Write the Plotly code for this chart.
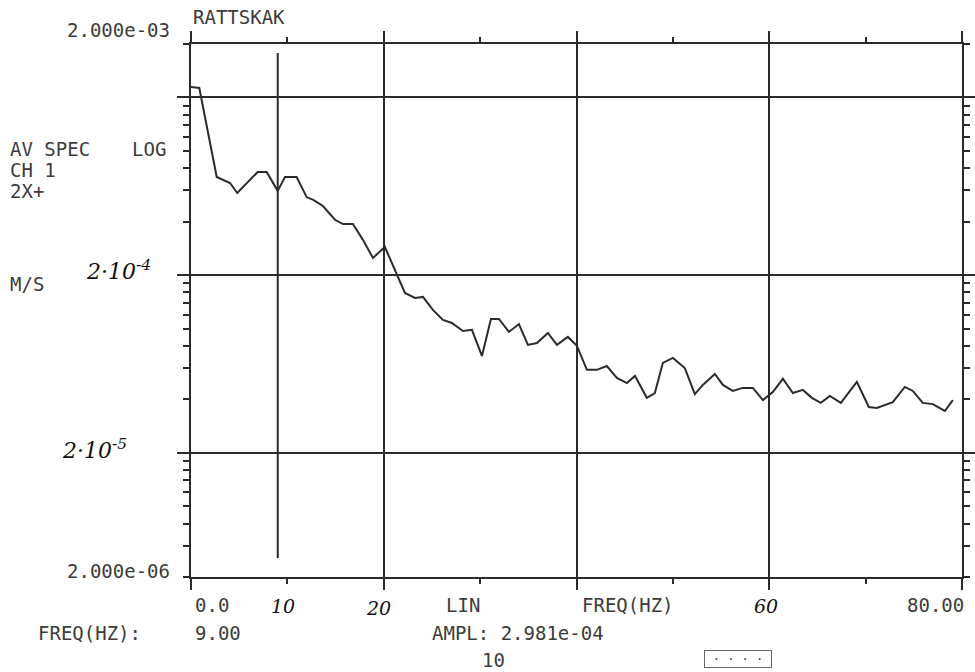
import math
import plotly.graph_objects as go

# Averaged spectrum, channel 1 (frequency in Hz, amplitude in m/s)
freq_hz = [0.0, 0.86, 2.67, 4.05, 4.80, 6.92, 7.85, 9.00, 9.75, 10.96,
           12.0, 12.69, 13.69, 14.94, 15.77, 16.80, 17.84, 18.88, 20.12, 21.37,
           22.2, 23.24, 24.07, 25.1, 26.14, 27.07, 28.22, 29.15, 30.19, 31.12,
           31.95, 32.99, 34.02, 34.96, 35.89, 37.03, 37.97, 39.11, 40.04, 41.08,
           42.12, 43.15, 44.19, 45.23, 46.06, 47.30, 48.13, 48.96, 50.0, 51.24,
           52.28, 53.11, 54.36, 55.19, 56.22, 57.26, 58.30, 59.34, 60.37, 61.41,
           62.45, 63.49, 64.42, 65.35, 66.29, 67.43, 69.09, 70.33, 71.16, 72.82,
           74.07, 74.90, 75.93, 76.97, 78.22, 79.05]
ampl = [1.146e-3, 1.131e-3, 3.57e-4, 3.30e-4, 2.90e-4, 3.81e-4, 3.81e-4, 2.981e-4, 3.57e-4, 3.57e-4,
        2.75e-4, 2.65e-4, 2.45e-4, 2.05e-4, 1.94e-4, 1.94e-4, 1.58e-4, 1.25e-4, 1.44e-4, 1.00e-4,
        7.94e-5, 7.44e-5, 7.54e-5, 6.37e-5, 5.60e-5, 5.38e-5, 4.85e-5, 4.92e-5, 3.51e-5, 5.67e-5,
        5.67e-5, 4.79e-5, 5.31e-5, 4.05e-5, 4.15e-5, 4.73e-5, 4.05e-5, 4.49e-5, 4.00e-5, 2.93e-5,
        2.93e-5, 3.08e-5, 2.64e-5, 2.47e-5, 2.71e-5, 2.04e-5, 2.17e-5, 3.21e-5, 3.42e-5, 3.00e-5,
        2.14e-5, 2.41e-5, 2.78e-5, 2.41e-5, 2.23e-5, 2.32e-5, 2.32e-5, 1.98e-5, 2.20e-5, 2.61e-5,
        2.17e-5, 2.26e-5, 2.04e-5, 1.91e-5, 2.09e-5, 1.91e-5, 2.51e-5, 1.81e-5, 1.79e-5, 1.93e-5,
        2.35e-5, 2.23e-5, 1.91e-5, 1.88e-5, 1.72e-5, 1.98e-5]

x_range = [0.0, 80.0]
y_top = 2.0e-3
y_bottom = 2.0e-6
cursor_freq = 9.00
cursor_ampl = 2.981e-4

W, H = 975, 672
L, R, T, B = 191, 13, 44, 95
PW, PH = W - L - R, H - T - B

INK = "#2b2b2b"
TEXT = "#3c3c3c"
HANDINK = "#111111"
MONO = "DejaVu Sans Mono"
HAND = "DejaVu Serif"


def px(x):
    return (x - L) / PW


def py(y):
    return (H - B - y) / PH


fig = go.Figure()
fig.add_trace(go.Scatter(x=freq_hz, y=ampl, mode="lines",
                         line=dict(color=INK, width=2), hoverinfo="skip",
                         showlegend=False))

fig.update_layout(
    width=W, height=H,
    margin=dict(l=L, r=R, t=T, b=B, pad=0, autoexpand=False),
    paper_bgcolor="white", plot_bgcolor="white",
    xaxis=dict(range=x_range, showgrid=True, gridcolor=INK, gridwidth=2,
               dtick=20, tick0=0, ticks="outside", ticklen=11, tickwidth=2,
               tickcolor=INK, showline=True, linecolor=INK, linewidth=2,
               mirror="ticks", showticklabels=False, zeroline=False,
               minor=dict(dtick=10, tick0=0, ticks="outside", ticklen=5,
                          tickwidth=2, tickcolor=INK, showgrid=False)),
    yaxis=dict(type="log", range=[math.log10(y_bottom), math.log10(y_top)],
               showgrid=True, gridcolor=INK, gridwidth=2, dtick=1,
               ticks="outside", ticklen=12, tickwidth=2, tickcolor=INK,
               showline=True, linecolor=INK, linewidth=2, mirror="ticks",
               showticklabels=False, zeroline=False,
               minor=dict(dtick="D1", ticks="outside", ticklen=6,
                          tickwidth=1.5, tickcolor=INK, showgrid=False)),
)

# cursor line at the read-out frequency
fig.add_shape(type="line", xref="x", yref="paper", x0=cursor_freq,
              x1=cursor_freq, y0=py(558), y1=py(53),
              line=dict(color=INK, width=2))

annos = []


def label(text, x, y, anchor="left", size=19, font=MONO, color=TEXT,
          italic=False):
    annos.append(dict(text=text, x=px(x), y=py(y), xref="paper",
                      yref="paper", xanchor=anchor, yanchor="middle",
                      showarrow=False,
                      font=dict(family=font, size=size, color=color,
                                style="italic" if italic else "normal")))


label("RATTSKAK", 191, 17)
label(f"{y_top:.3e}", 172, 30, anchor="right")
label(f"{y_bottom:.3e}", 172, 571, anchor="right")
label("AV SPEC", 8, 149)
label("LOG", 130, 149)
label("CH 1", 8, 170)
label("2X+", 8, 191)
label("M/S", 8, 284)

# hand-written notes
label("2·10<sup>-4</sup>", 84, 270, size=22, font=HAND, color=HANDINK,
      italic=True)
label("2·10<sup>-5</sup>", 60, 449, size=22, font=HAND, color=HANDINK,
      italic=True)
label("10", 283, 606, anchor="center", size=19, font=HAND, color=HANDINK,
      italic=True)
label("20", 378, 608, anchor="center", size=19, font=HAND, color=HANDINK,
      italic=True)
label("60", 766, 606, anchor="center", size=19, font=HAND, color=HANDINK,
      italic=True)

label(f"{x_range[0]:.1f}", 193, 605)
label("LIN", 444, 605)
label("FREQ(HZ)", 580, 605)
label(f"{x_range[1]:.2f}", 966, 605, anchor="right")
label("FREQ(HZ):", 36, 633)
label(f"{cursor_freq:.2f}", 193, 633)
label(f"AMPL: {cursor_ampl:.3e}", 430, 633)
label("10", 480, 660)

annos.append(dict(text="· · · ·", x=px(738), y=py(659), xref="paper",
                  yref="paper", xanchor="center", yanchor="middle",
                  showarrow=False, bordercolor="#666", borderwidth=1,
                  borderpad=1, width=64, height=14,
                  font=dict(family=MONO, size=12, color=TEXT)))

fig.update_layout(annotations=annos)

fig.write_html("out.html")
